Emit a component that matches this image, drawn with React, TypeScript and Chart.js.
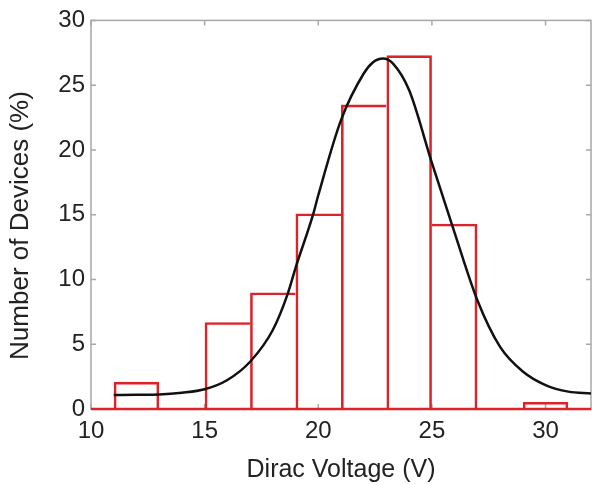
import React, { useEffect, useRef } from "react";
import { Chart, registerables } from "chart.js";

Chart.register(...registerables);

// Histogram bins (centres, width 2 V) and heights in %
const binCenters = [12, 14, 16, 18, 20, 22, 24, 26, 28, 30];
const binHeights = [2.1, 0, 6.7, 9.0, 15.1, 23.5, 27.3, 14.3, 0, 0.55];

// Fitted curve
const fitX = [11, 12, 13, 14, 15, 16, 17, 18, 18.67, 19, 19.77, 20, 21, 22, 22.4, 22.85, 23.3, 24, 25, 26, 27, 28, 29, 30, 31, 32];
const fitY = [1.08, 1.1, 1.12, 1.25, 1.52, 2.24, 3.65, 6.1, 8.97, 10.9, 15.0, 16.5, 22.3, 25.9, 26.75, 27.05, 26.65, 24.6, 19.0, 13.6, 8.4, 4.8, 2.9, 1.85, 1.34, 1.2];

// Axis ranges and ticks
const xRange = [10, 32];
const yRange = [0, 30];
const xTicks = [10, 15, 20, 25, 30];
const yTicks = [0, 5, 10, 15, 20, 25, 30];

const RED = "rgb(222,34,40)";
const BW = 2.6;

const framePlugin = {
  id: "frame",
  beforeDatasetsDraw(chart: any) {
    const { ctx, chartArea: a, scales } = chart;
    const x = scales.x;
    const y = scales.y;
    ctx.save();
    ctx.strokeStyle = "#a8a8a8";
    ctx.lineWidth = 1.5;
    ctx.strokeRect(a.left, a.top, a.right - a.left, a.bottom - a.top);
    ctx.beginPath();
    const L = 5;
    for (const v of xTicks) {
      const px = x.getPixelForValue(v);
      ctx.moveTo(px, a.bottom);
      ctx.lineTo(px, a.bottom - L);
      ctx.moveTo(px, a.top);
      ctx.lineTo(px, a.top + L);
    }
    for (const v of yTicks) {
      const py = y.getPixelForValue(v);
      ctx.moveTo(a.left, py);
      ctx.lineTo(a.left + L, py);
      ctx.moveTo(a.right, py);
      ctx.lineTo(a.right - L, py);
    }
    ctx.stroke();
    ctx.restore();
  },
};

export default function App() {
  const ref = useRef<HTMLCanvasElement | null>(null);

  useEffect(() => {
    if (!ref.current) return;
    const barData = binCenters.map((x, i) => ({ x, y: binHeights[i] }));
    const fitData = fitX.map((x, i) => ({ x, y: fitY[i] }));
    const baseData = xRange.map((x) => ({ x, y: 0 }));

    const sideWidth = (ctx: any) => {
      const i = ctx.dataIndex;
      const h = binHeights[i];
      const lh = i > 0 ? binHeights[i - 1] : 0;
      const rh = i < binHeights.length - 1 ? binHeights[i + 1] : 0;
      return {
        top: BW,
        bottom: 0,
        left: lh < h ? BW : 0,
        right: rh < h ? BW : 0,
      };
    };

    const chart = new Chart(ref.current, {
      type: "bar",
      data: {
        datasets: [
          {
            type: "line",
            data: fitData as any,
            borderColor: "#111111",
            borderWidth: 2.5,
            pointRadius: 0,
            cubicInterpolationMode: "monotone",
            order: 0,
          } as any,
          {
            type: "line",
            data: baseData as any,
            borderColor: RED,
            borderWidth: 2.6,
            pointRadius: 0,
            clip: false,
            order: 1,
          } as any,
          {
            type: "bar",
            data: barData as any,
            backgroundColor: "rgba(0,0,0,0)",
            borderColor: RED,
            borderWidth: sideWidth as any,
            borderSkipped: false,
            inflateAmount: 0,
            barPercentage: 1,
            categoryPercentage: 1,
            order: 2,
          } as any,
        ],
      },
      options: {
        animation: false,
        responsive: false,
        devicePixelRatio: 1,
        layout: { padding: { top: 20, right: 1, left: 0, bottom: 0 } },
        plugins: {
          legend: { display: false },
          tooltip: { enabled: false },
        },
        scales: {
          x: {
            type: "linear",
            min: xRange[0],
            max: xRange[1],
            offset: false,
            grid: { display: false, drawTicks: false },
            border: { display: false },
            afterBuildTicks: (s: any) => {
              s.ticks = xTicks.map((v) => ({ value: v }));
            },
            afterFit: (s: any) => {
              s.height = 76;
            },
            ticks: {
              padding: 8,
              color: "#222",
              font: { family: "Liberation Sans", size: 24 },
              maxRotation: 0,
              autoSkip: false,
            },
            title: {
              display: true,
              text: "Dirac Voltage (V)",
              color: "#222",
              font: { family: "Liberation Sans", size: 25 },
              padding: { top: 0, bottom: 0 },
            },
          },
          y: {
            type: "linear",
            min: yRange[0],
            max: yRange[1],
            grid: { display: false, drawTicks: false },
            border: { display: false },
            afterBuildTicks: (s: any) => {
              s.ticks = yTicks.map((v) => ({ value: v }));
            },
            afterFit: (s: any) => {
              s.width = 91;
            },
            ticks: {
              padding: 6,
              color: "#222",
              font: { family: "Liberation Sans", size: 24 },
              autoSkip: false,
            },
            title: {
              display: true,
              text: "Number of Devices (%)   ",
              color: "#222",
              font: { family: "Liberation Sans", size: 26 },
              padding: { top: 5, bottom: 0 },
            },
          },
        },
      },
      plugins: [framePlugin],
    });
    return () => chart.destroy();
  }, []);

  return (
    <div style={{ position: "fixed", left: 0, top: 0, width: 592, height: 485, background: "#fff" }}>
      <canvas ref={ref} width={592} height={485} style={{ display: "block" }} />
    </div>
  );
}
